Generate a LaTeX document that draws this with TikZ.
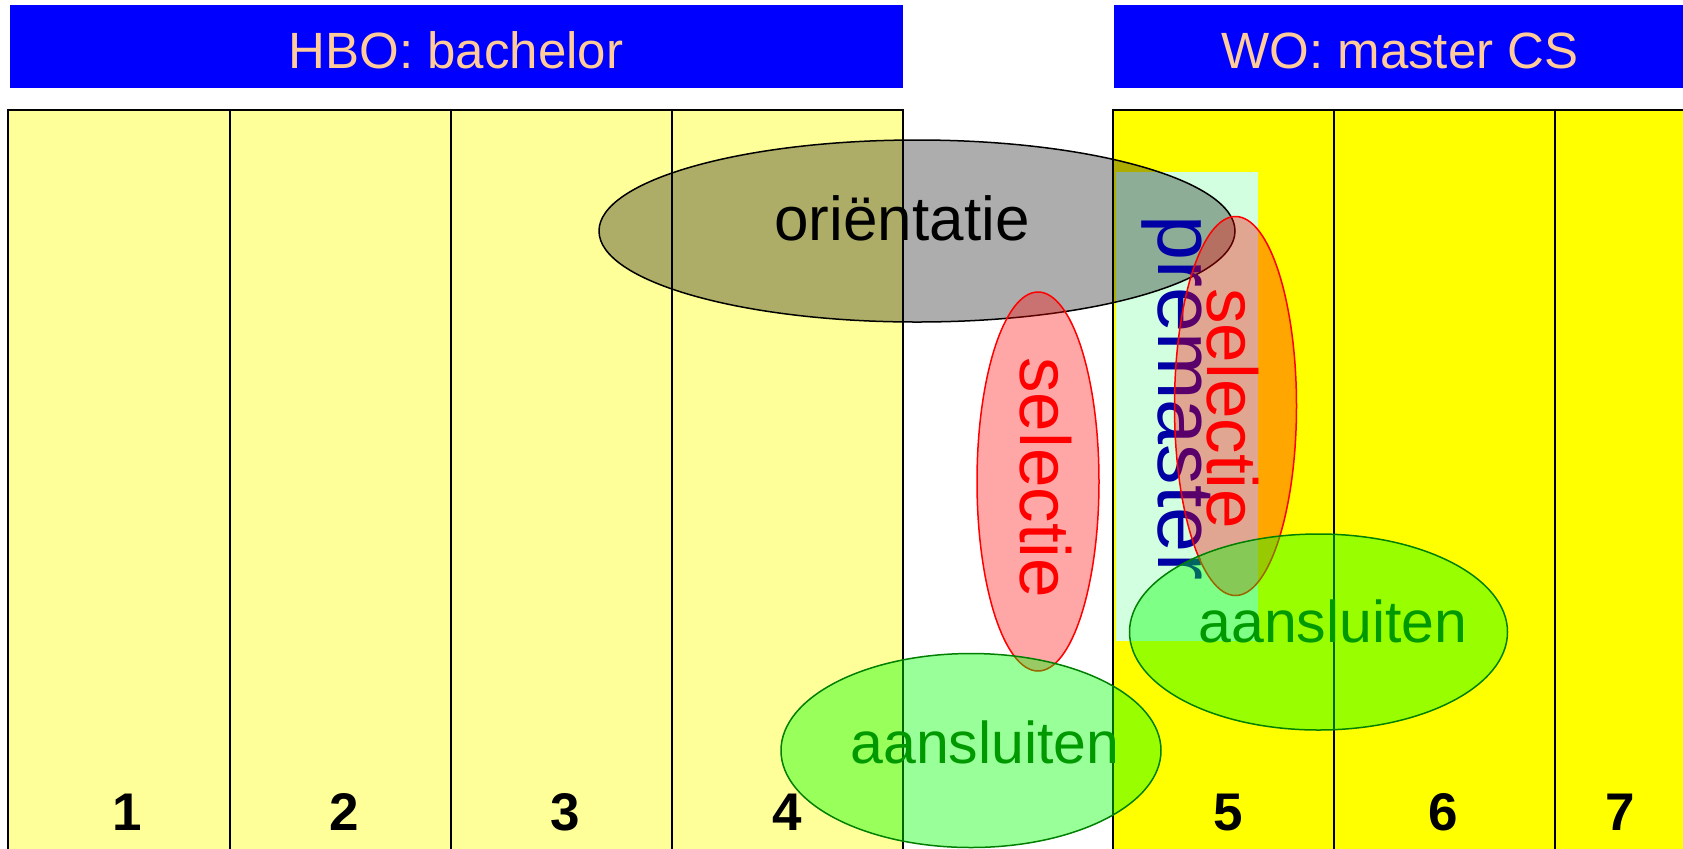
\documentclass[tikz,border=0pt]{standalone}
\usepackage{fontspec}
\setmainfont{Liberation Sans}

\begin{document}
\begin{tikzpicture}[x=0.5pt,y=0.5pt,yscale=-1,xscale=1,
  cellline/.style={draw=black,line width=1pt},
  bartext/.style={anchor=base,text={rgb,255:red,255;green,204;blue,153},font=\fontsize{25.5}{30}\selectfont},
  yeartext/.style={anchor=base,font=\fontsize{26.5}{30}\selectfont\bfseries},
  sidetext/.style={anchor=base west,inner sep=0,rotate=-90},
  blob/.style={line width=0.75pt}]
\useasboundingbox (0,0) rectangle (1683,848);

%Shape: Rectangle HBO years
\fill [color={rgb, 255:red, 255; green, 255; blue, 153 }] (8,110) rectangle (903,850) ;
%Shape: Rectangle WO years
\fill [color={rgb, 255:red, 255; green, 255; blue, 0 }] (1113,110) rectangle (1683,850) ;
%Straight Lines
\draw [cellline] (8,850) -- (8,110) -- (903,110) -- (903,850) ;
\draw [cellline] (229.5,110) -- (229.5,850) ;
\draw [cellline] (450.5,110) -- (450.5,850) ;
\draw [cellline] (671.5,110) -- (671.5,850) ;
\draw [cellline] (1113,850) -- (1113,110) -- (1683,110) ;
\draw [cellline] (1334,110) -- (1334,850) ;
\draw [cellline] (1555,110) -- (1555,850) ;

%Shape: Rectangle bars
\fill [color={rgb, 255:red, 0; green, 0; blue, 255 }] (10,5) rectangle (903,88) ;
\fill [color={rgb, 255:red, 0; green, 0; blue, 255 }] (1114,5) rectangle (1683,88) ;
\node [bartext] (hbo) at (456,68) {HBO: bachelor};
\node [bartext] (wo) at (1400,68) {WO: master CS};

%Shape: Rectangle premaster
\fill [color={rgb, 255:red, 204; green, 255; blue, 255 }, fill opacity=0.88] (1116,172) rectangle (1258,641) ;

%Shape: Ellipse orientatie
\draw [blob, draw=black, fill=black, fill opacity=0.32] (917,231) ellipse [x radius=318, y radius=91] ;
\node [sidetext, text={rgb, 255:red, 0; green, 0; blue, 165 }, font=\fontsize{40.5}{44}\selectfont] (premaster) at (1158,215) {premaster};
\node [anchor=base, font=\fontsize{31}{36}\selectfont] (orientatie) at (902,240) {oriëntatie};

%Shape: Ellipse selectie
\draw [blob, draw=red, fill=red, fill opacity=0.35] (1038,481.5) ellipse [x radius=61, y radius=189.5] ;
\draw [blob, draw=red, fill=red, fill opacity=0.35] (1235.5,406) ellipse [x radius=61, y radius=189.5] ;
\node [sidetext, text=red, font=\fontsize{35.5}{40}\selectfont] (selectieA) at (1020,357) {selectie};
\node [sidetext, text=red, font=\fontsize{35.5}{40}\selectfont] (selectieB) at (1207,288) {selectie};

%Shape: Ellipse aansluiten
\draw [blob, draw={rgb, 255:red, 0; green, 128; blue, 0 }, fill={rgb, 255:red, 0; green, 255; blue, 0 }, fill opacity=0.4] (971,750.5) ellipse [x radius=190, y radius=97] ;
\draw [blob, draw={rgb, 255:red, 0; green, 128; blue, 0 }, fill={rgb, 255:red, 0; green, 255; blue, 0 }, fill opacity=0.4] (1318.5,632) ellipse [x radius=189, y radius=98] ;
\node [anchor=base, text={rgb, 255:red, 0; green, 153; blue, 0 }, font=\fontsize{29.5}{34}\selectfont] (aansluitenA) at (985,763) {aansluiten};
\node [anchor=base, text={rgb, 255:red, 0; green, 153; blue, 0 }, font=\fontsize{29.5}{34}\selectfont] (aansluitenB) at (1333,642) {aansluiten};

%Text years
\node [yeartext] (y1) at (127,830) {1};
\node [yeartext] (y2) at (344,830) {2};
\node [yeartext] (y3) at (565,830) {3};
\node [yeartext] (y4) at (787,830) {4};
\node [yeartext] (y5) at (1228,830) {5};
\node [yeartext] (y6) at (1443,830) {6};
\node [yeartext] (y7) at (1620,830) {7};

\end{tikzpicture}
\end{document}
